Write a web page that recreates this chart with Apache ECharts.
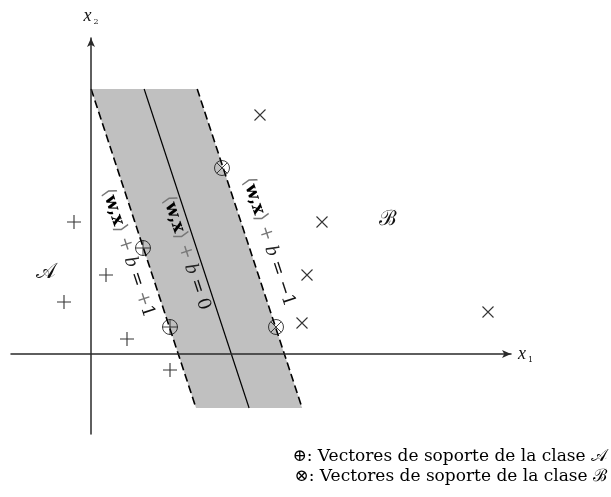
<!DOCTYPE html>
<html><head><meta charset="utf-8">
<script src="https://cdn.jsdelivr.net/npm/echarts@6/dist/echarts.min.js"></script>
<style>html,body{margin:0;padding:0;background:#fff}#c{width:611px;height:497px}</style>
</head><body><div id="c"></div>
<script>
// Separating hyperplane <w,x> + b = 0 with margins <w,x> + b = +1 / -1
const w = [-0.377, -0.124];
const b = 2.645;
const marginLevels = [1, 0, -1];
const marginTexts = ['⟨w,x⟩ + b = +1', '⟨w,x⟩ + b = 0', '⟨w,x⟩ + b = −1'];
const bandYRange = [-2.7, 13.25];

// Training points of each class
const classA = [[-0.85, 6.6], [0.75, 3.95], [-1.35, 2.6], [1.8, 0.75], [3.95, -0.8]];
const classB = [[8.45, 11.95], [11.55, 6.6], [10.8, 3.95], [10.55, 1.55], [19.85, 2.1]];
// Support vectors lying on the margins
const supportA = [[2.6, 5.3], [3.95, 1.35]];
const supportB = [[6.55, 9.3], [9.25, 1.35]];

const classNames = ['𝒜', 'ℬ'];
const classNamePos = [[-2.25, 4.05], [14.85, 6.7]];
const legendLines = ['⊕: Vectores de soporte de la clase 𝒜', '⊗: Vectores de soporte de la clase ℬ'];

// x on the line <w,x> + b = level, for a given y
function xOn(level, y) { return (level - b - w[1] * y) / w[0]; }

const SERIF = '"DejaVu Serif", "Liberation Serif", serif';
const ITALIC = '"Liberation Serif", "DejaVu Serif", serif';
const lineAngle = Math.atan2(w[0], -w[1]);   // direction of the hyperplane, pointing down
// where each margin label sits: y on its line, and horizontal shift in px
const labelAnchors = [{ y: 5.05, dx: -17 }, { y: 5.05, dx: -12 }, { y: 5.6, dx: 21 }];

const PLUS = 'path://M0,10L20,10M10,0L10,20';
const CROSS = 'path://M0,0L20,20M0,20L20,0';
const OPLUS = 'path://M0,10A10,10 0 1,1 20,10A10,10 0 1,1 0,10ZM0,10L20,10M10,0L10,20';
const OTIMES = 'path://M0,10A10,10 0 1,1 20,10A10,10 0 1,1 0,10ZM2.93,2.93L17.07,17.07M2.93,17.07L17.07,2.93';

// "<w,x> + b = r" as rich text: bold vectors, grey brackets and plus signs
function richLabel(t) {
  const m = t.match(/^⟨(w,x)⟩ \+ b = (.*)$/);
  const r = m[2].charAt(0) === '+' ? '{g|+}{n|' + m[2].slice(1) + '}' : '{n|' + m[2] + '}';
  return '{g|⟨}{k|' + m[1] + '}{g|⟩} {g|+} {i|b} {n|=} ' + r;
}

const FS = 18;
const labelRich = {
  k: { fontFamily: SERIF, fontSize: FS, fontWeight: 'bold', fill: '#000' },
  g: { fontFamily: SERIF, fontSize: FS, fill: '#777' },
  i: { fontFamily: ITALIC, fontSize: FS + 2, fontStyle: 'italic', fill: '#222' },
  n: { fontFamily: SERIF, fontSize: FS, fill: '#111' }
};
const axisNameRich = {
  i: { fontFamily: ITALIC, fontStyle: 'italic', fontSize: 18, color: '#111' },
  s: { fontFamily: SERIF, fontSize: 8, color: '#111', padding: [11, 0, 0, 2] }
};

const chart = echarts.init(document.getElementById('c'), null, { renderer: 'canvas' });

chart.setOption({
  animation: false,
  backgroundColor: '#fff',
  grid: { left: 11, right: 100, top: 38, bottom: 63 },
  xAxis: {
    type: 'value', min: -4, max: 21, z: 3,
    axisLine: { onZero: true, symbol: ['none', 'arrow'], symbolSize: [6, 9], lineStyle: { color: '#2a2a2a', width: 1.5 } },
    axisTick: { show: false }, axisLabel: { show: false }, splitLine: { show: false },
    name: '{i|x}{s|1}', nameLocation: 'end', nameGap: 7,
    nameTextStyle: { rich: axisNameRich }
  },
  yAxis: {
    type: 'value', min: -4, max: 15.8, z: 3,
    axisLine: { onZero: true, symbol: ['none', 'arrow'], symbolSize: [6, 9], lineStyle: { color: '#2a2a2a', width: 1.5 } },
    axisTick: { show: false }, axisLabel: { show: false }, splitLine: { show: false },
    name: '{i|x}{s|2}', nameLocation: 'end', nameGap: 12,
    nameTextStyle: { align: 'center', rich: axisNameRich }
  },
  series: [
    {
      type: 'custom', z: 1, coordinateSystem: 'cartesian2d', data: [[0, 0]],
      renderItem: function (params, api) {
        const [y0, y1] = bandYRange;
        const band = [[xOn(1, y1), y1], [xOn(-1, y1), y1], [xOn(-1, y0), y0], [xOn(1, y0), y0]].map(p => api.coord(p));
        const children = [{ type: 'polygon', shape: { points: band }, style: { fill: '#c0c0c0' } }];
        marginLevels.forEach(function (lv) {
          const p = api.coord([xOn(lv, y1), y1]), q = api.coord([xOn(lv, y0), y0]);
          children.push({ type: 'line', z2: 2,
            shape: { x1: p[0], y1: p[1], x2: q[0], y2: q[1] },
            style: { stroke: '#000', lineWidth: lv === 0 ? 1.2 : 1.6, lineDash: lv === 0 ? null : [8, 4] } });
        });
        marginLevels.forEach(function (lv, i) {
          const a = labelAnchors[i];
          const c = api.coord([xOn(lv, a.y), a.y]);
          children.push({ type: 'text', z2: 3, x: c[0] + a.dx, y: c[1], rotation: lineAngle,
            style: { text: richLabel(marginTexts[i]), align: 'center', verticalAlign: 'middle',
              fontFamily: SERIF, fontSize: FS, rich: labelRich } });
        });
        classNames.forEach(function (n, i) {
          const c = api.coord(classNamePos[i]);
          children.push({ type: 'text', x: c[0], y: c[1],
            style: { text: n, align: 'center', verticalAlign: 'middle', fontFamily: SERIF, fontSize: 21, fill: '#111' } });
        });
        return { type: 'group', children: children };
      }
    },
    { type: 'scatter', z: 4, data: classA, symbol: PLUS, symbolSize: 14,
      itemStyle: { color: 'none', borderColor: '#000', borderWidth: 1.1 } },
    { type: 'scatter', z: 4, data: classB, symbol: CROSS, symbolSize: 11,
      itemStyle: { color: 'none', borderColor: '#000', borderWidth: 1.1 } },
    { type: 'scatter', z: 4, data: supportA, symbol: OPLUS, symbolSize: 15,
      itemStyle: { color: 'none', borderColor: '#111', borderWidth: 1 } },
    { type: 'scatter', z: 4, data: supportB, symbol: OTIMES, symbolSize: 15,
      itemStyle: { color: 'none', borderColor: '#111', borderWidth: 1 } }
  ],
  graphic: legendLines.map(function (t, i) {
    return { type: 'text', right: 4, top: 448 + i * 20,
      style: { text: t, fontFamily: SERIF, fontSize: 17, fill: '#000' } };
  })
});
</script></body></html>
